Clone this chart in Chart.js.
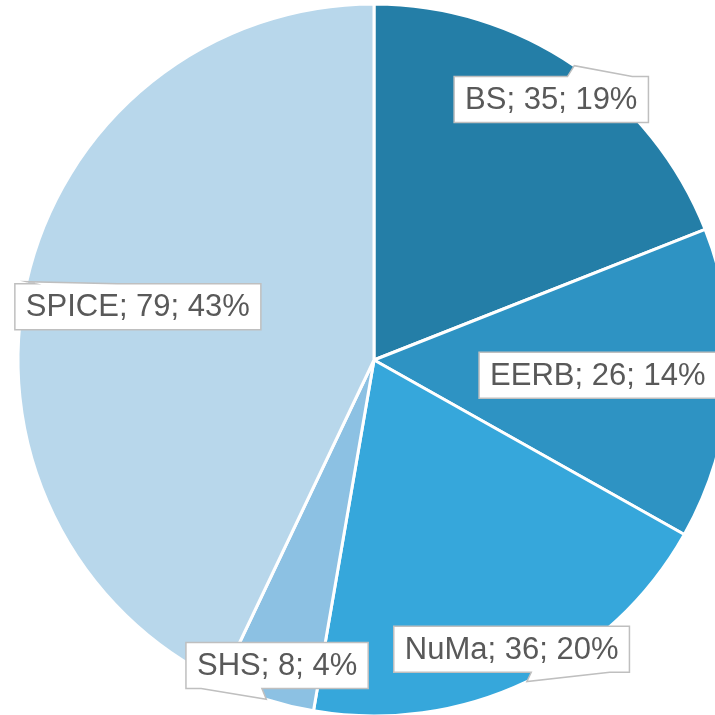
<!DOCTYPE html>
<html>
<head>
<meta charset="utf-8">
<script src="https://cdn.jsdelivr.net/npm/chart.js@4"></script>
<style>
  html, body { margin: 0; padding: 0; background: #fff; overflow: hidden; }
  #wrap { width: 715px; height: 715px; overflow: hidden; }
  canvas { display: block; }
</style>
</head>
<body>
<div id="wrap"><canvas id="chart" width="748" height="720"></canvas></div>
<script>
const categories = ['BS', 'EERB', 'NuMa', 'SHS', 'SPICE'];
const counts = [35, 26, 36, 8, 79];
const sliceColors = ['#247ea7', '#2e93c3', '#36a7db', '#8cc1e3', '#b8d7eb'];
// how far out (fraction of radius) each callout sits along its slice's mid angle
const labelDist = [0.885, 0.63, 0.9, 0.9, 0.68];

const total = counts.reduce((a, b) => a + b, 0);

const calloutPlugin = {
  id: 'callouts',
  afterDatasetsDraw(chart) {
    const ctx = chart.ctx;
    const meta = chart.getDatasetMeta(0);
    ctx.save();
    ctx.font = '31px "Liberation Sans", Arial, sans-serif';
    ctx.textAlign = 'center';
    ctx.textBaseline = 'middle';
    meta.data.forEach((arc, i) => {
      const { x, y, startAngle, endAngle, outerRadius } = arc.getProps(['x', 'y', 'startAngle', 'endAngle', 'outerRadius'], true);
      const mid = (startAngle + endAngle) / 2;
      const pct = Math.round(counts[i] / total * 100);
      const text = `${categories[i]}; ${counts[i]}; ${pct}%`;
      const tw = ctx.measureText(text).width;
      const w = tw + 22, h = 46;
      const cx = x + Math.cos(mid) * outerRadius * labelDist[i];
      const cy = y + Math.sin(mid) * outerRadius * labelDist[i];
      const tipX = x + Math.cos(mid) * outerRadius;
      const tipY = y + Math.sin(mid) * outerRadius;
      const l = cx - w / 2, t = cy - h / 2, r = cx + w / 2, b = cy + h / 2;

      // pick the edge the wedge leaves from
      const dx = (tipX - cx) / w, dy = (tipY - cy) / h;
      const inside = Math.abs(dx) <= 0.5 && Math.abs(dy) <= 0.5;
      let edge = null;
      if (!inside) edge = Math.abs(dx) > Math.abs(dy) ? (dx > 0 ? 'right' : 'left') : (dy > 0 ? 'bottom' : 'top');

      ctx.beginPath();
      ctx.moveTo(l, t);
      if (edge === 'top') {
        const a = tipX > cx ? l + w * 7 / 12 : l + w / 12;
        const c = tipX > cx ? l + w * 11 / 12 : l + w * 5 / 12;
        ctx.lineTo(a, t); ctx.lineTo(tipX, tipY); ctx.lineTo(c, t);
      }
      ctx.lineTo(r, t);
      if (edge === 'right') {
        const a = tipY > cy ? t + h * 7 / 12 : t + h / 12;
        const c = tipY > cy ? t + h * 11 / 12 : t + h * 5 / 12;
        ctx.lineTo(r, a); ctx.lineTo(tipX, tipY); ctx.lineTo(r, c);
      }
      ctx.lineTo(r, b);
      if (edge === 'bottom') {
        const a = tipX > cx ? l + w * 11 / 12 : l + w * 5 / 12;
        const c = tipX > cx ? l + w * 7 / 12 : l + w / 12;
        ctx.lineTo(a, b); ctx.lineTo(tipX, tipY); ctx.lineTo(c, b);
      }
      ctx.lineTo(l, b);
      if (edge === 'left') {
        const a = tipY > cy ? t + h * 11 / 12 : t + h * 5 / 12;
        const c = tipY > cy ? t + h * 7 / 12 : t + h / 12;
        ctx.lineTo(l, a); ctx.lineTo(tipX, tipY); ctx.lineTo(l, c);
      }
      ctx.closePath();
      ctx.fillStyle = '#ffffff';
      ctx.fill();
      ctx.strokeStyle = '#bfbfbf';
      ctx.lineWidth = 1.5;
      ctx.stroke();

      ctx.fillStyle = '#595959';
      ctx.fillText(text, cx, cy + 1);
    });
    ctx.restore();
  }
};

new Chart(document.getElementById('chart'), {
  type: 'pie',
  data: {
    labels: categories,
    datasets: [{
      data: counts,
      backgroundColor: sliceColors,
      borderColor: '#ffffff',
      borderWidth: 3,
      radius: 356
    }]
  },
  options: {
    responsive: false,
    animation: false,
    layout: { padding: 0 },
    plugins: {
      legend: { display: false },
      tooltip: { enabled: false }
    }
  },
  plugins: [calloutPlugin]
});
</script>
</body>
</html>
